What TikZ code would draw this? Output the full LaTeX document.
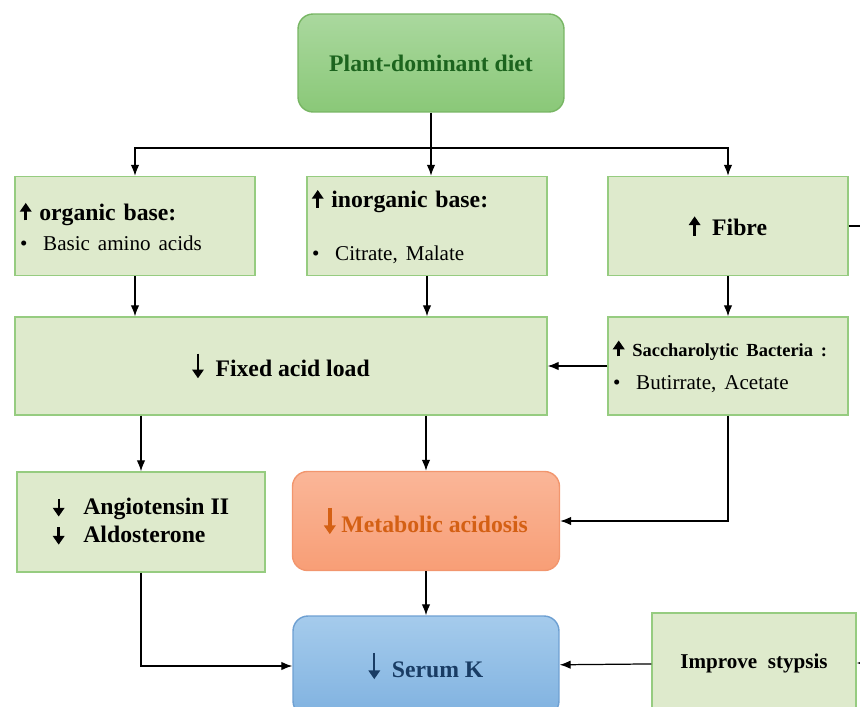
\documentclass[tikz,border=0pt]{standalone}
\usepackage{fontspec}
\setmainfont{Liberation Serif}
\usepackage{xcolor}
\usetikzlibrary{arrows.meta,positioning}

\definecolor{boxfill}{RGB}{222,234,204}
\definecolor{boxline}{RGB}{150,204,128}
\definecolor{dietTop}{RGB}{170,216,158}
\definecolor{dietBot}{RGB}{138,200,120}
\definecolor{dietLine}{RGB}{120,182,100}
\definecolor{dietText}{RGB}{28,100,30}
\definecolor{acidTop}{RGB}{250,182,152}
\definecolor{acidBot}{RGB}{248,158,118}
\definecolor{acidLine}{RGB}{242,150,110}
\definecolor{acidText}{RGB}{212,96,20}
\definecolor{kTop}{RGB}{165,203,236}
\definecolor{kBot}{RGB}{128,178,224}
\definecolor{kLine}{RGB}{110,160,210}
\definecolor{kText}{RGB}{25,60,100}

\newcommand{\bulitem}[1]{{\mdseries\fontsize{12}{14}\selectfont\textbullet\hspace{0.75em}#1}}
% small arrows drawn in the text: [colour]{height}{stem width}
\newcommand{\uparr}[3][black]{\tikz[baseline=-1pt]\draw[#1,line width=#3,
  -{Triangle[length=5pt,width=6.5pt]}] (0,-1pt) -- (0,#2);}
\newcommand{\downarr}[3][black]{\tikz[baseline=-1pt]\draw[#1,line width=#3,
  -{Triangle[length=5pt,width=6.5pt]}] (0,#2) -- (0,-2pt);}

\begin{document}
\begin{tikzpicture}[x=0.02cm,y=-0.02cm,
  >={Latex[length=2.2mm,width=1.7mm]},
  box/.style={draw=boxline,fill=boxfill,line width=0.8pt,inner sep=0.1cm,
    minimum width=4.8cm,minimum height=1.98cm,
    font=\bfseries\fontsize{13.5}{16}\selectfont},
  roundbox/.style={rounded corners=0.3cm,line width=0.8pt,
    minimum width=5.32cm,minimum height=1.98cm,
    font=\bfseries\fontsize{13.5}{16}\selectfont},
  conn/.style={draw,->,line width=0.7pt}]
\clip (0,0) rectangle (860,707);
% top node
\node[roundbox,draw=dietLine,top color=dietTop,bottom color=dietBot,text=dietText,
  minimum height=1.96cm] (diet) at (431,63) {Plant-dominant diet};
% first row
\node[box,text width=4.6cm,align=left] (org) at (135,226)
  {\uparr{9pt}{1.6pt}\ organic base:\\[1pt]\bulitem{Basic amino acids}};
\node[box,text width=4.6cm,align=left] (inorg) at (427,226)
  {\uparr{9pt}{1.6pt}\ inorganic base:\\[14pt]\bulitem{Citrate, Malate}};
\node[box] (fibre) at (728,226) {\uparr{10pt}{1.8pt}\ \ Fibre};
% second row
\node[box,minimum width=10.64cm,minimum height=1.96cm] (fixed) at (281,366)
  {\downarr{12pt}{1.2pt}\ \ Fixed acid load};
\node[box,text width=4.6cm,align=left,minimum height=1.96cm] (sacch) at (728,366)
  {{\fontsize{10.5}{13}\selectfont \uparr{8pt}{1.6pt}\ Saccharolytic Bacteria :}\\[3pt]\bulitem{Butirrate, Acetate}};
% third row
\node[box,align=left,minimum width=4.96cm,minimum height=2cm] (angio) at (141,522)
  {\downarr{8pt}{1.2pt}\hspace{0.8em}Angiotensin II\\\downarr{8pt}{1.6pt}\hspace{0.8em}Aldosterone};
\node[roundbox,draw=acidLine,top color=acidTop,bottom color=acidBot,text=acidText,
  minimum width=5.34cm] (metab) at (426,521)
  {\downarr[acidText]{13pt}{2.2pt}\ Metabolic acidosis};
% bottom row
\node[roundbox,draw=kLine,top color=kTop,bottom color=kBot,text=kText,
  minimum height=2cm] (serum) at (426,666)
  {\downarr[kText]{13pt}{1.2pt}\ \ Serum K};
\node[box,minimum width=4.08cm,minimum height=2cm,font=\bfseries\fontsize{12}{14}\selectfont]
  (stypsis) at (754,663) {Improve \ stypsis};
% connectors
\coordinate (split) at (431,148);
\coordinate (fibout) at (860,226);
\coordinate (stypin) at (860,663);
\draw[conn] (diet) -- (diet |- inorg.north);
\draw[conn] (split) -| (org);
\draw[conn] (split) -| (fibre);
\draw[conn] (org) -- (org |- fixed.north);
\draw[conn] (inorg) -- (inorg |- fixed.north);
\draw[conn] (fibre) -- (sacch);
\draw[line width=0.7pt] (fibre) -- (fibout);
\draw[conn] (sacch) -- (fixed);
\draw[conn] (fixed.south -| angio) -- (angio);
\draw[conn] (fixed.south -| metab) -- (metab);
\draw[conn] (sacch) |- (metab);
\draw[conn] (angio) |- (serum);
\draw[conn] (metab) -- (serum);
\draw[conn] (stypsis) -- (serum);
\draw[conn] (stypin) -- (stypsis);
\end{tikzpicture}
\end{document}
